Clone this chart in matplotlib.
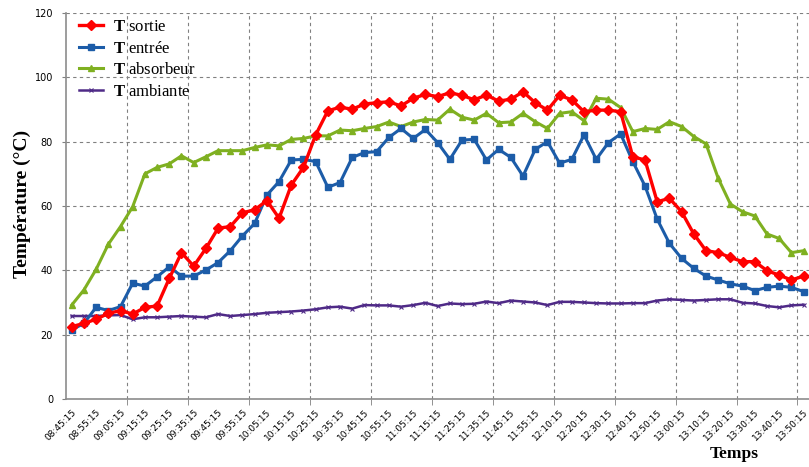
import matplotlib
matplotlib.use('Agg')
import matplotlib.pyplot as plt
import numpy as np

plt.rcParams['mathtext.fontset'] = 'custom'
plt.rcParams['mathtext.rm'] = 'Liberation Serif'
plt.rcParams['mathtext.bf'] = 'Liberation Serif:bold'

# une etiquette toutes les 2 mesures
etiquettes = ['08:45:15', '08:55:15', '09:05:15', '09:15:15', '09:25:15', '09:35:15',
              '09:45:15', '09:55:15', '10:05:15', '10:15:15', '10:25:15', '10:35:15',
              '10:45:15', '10:55:15', '11:05:15', '11:15:15', '11:25:15', '11:35:15',
              '11:45:15', '11:55:15', '12:10:15', '12:20:15', '12:30:15', '12:40:15',
              '12:50:15', '13:00:15', '13:10:15', '13:20:15', '13:30:15', '13:40:15',
              '13:50:15']

T_sortie = [22.5, 23.5, 24.8, 26.6, 27.5, 26.4, 28.5, 28.9, 37.5, 45.5,
            41.3, 46.8, 53.1, 53.6, 57.9, 58.8, 61.7, 56.2, 66.5, 72.0,
            82.1, 89.6, 90.7, 90.1, 91.7, 92.1, 92.4, 91.1, 93.5, 94.7,
            94.0, 95.2, 94.4, 93.0, 94.5, 92.6, 93.2, 95.5, 92.1, 89.8,
            94.4, 93.0, 89.3, 89.8, 89.8, 89.3, 75.3, 74.3, 61.3, 62.4,
            58.2, 51.3, 46.1, 45.5, 44.0, 42.7, 42.7, 39.9, 38.5, 37.0, 38.2]

T_entree = [21.5, 23.5, 28.5, 27.5, 28.7, 36.0, 35.1, 38.0, 41.1, 38.2,
            38.2, 40.1, 42.4, 46.1, 50.7, 54.6, 63.4, 67.6, 74.3, 74.5,
            73.8, 65.8, 67.3, 75.1, 76.6, 76.9, 81.3, 84.1, 81.0, 83.8,
            79.7, 74.5, 80.5, 80.7, 74.3, 77.6, 75.1, 69.3, 77.6, 80.0,
            73.3, 74.5, 82.1, 74.5, 79.7, 82.4, 73.8, 66.2, 55.9, 48.4,
            43.7, 40.6, 38.2, 37.0, 35.8, 35.1, 33.7, 34.7, 35.1, 34.7, 33.4]

T_absorbeur = [29.2, 33.9, 40.3, 48.1, 53.6, 59.8, 70.0, 72.0, 73.1, 75.6,
               73.5, 75.3, 77.2, 77.2, 77.2, 78.2, 79.0, 78.7, 80.7, 81.0,
               81.8, 81.8, 83.6, 83.4, 84.1, 84.7, 86.1, 84.7, 86.1, 86.9,
               86.7, 90.1, 87.6, 86.7, 88.8, 85.9, 86.1, 88.8, 86.2, 84.1,
               88.8, 89.3, 86.5, 93.5, 93.2, 90.6, 83.1, 84.1, 83.8, 86.2,
               84.7, 81.6, 79.3, 68.6, 60.6, 58.2, 56.9, 51.3, 49.9, 45.5, 46.1]

T_ambiante = [25.8, 25.8, 25.8, 26.0, 26.1, 24.8, 25.4, 25.4, 25.6, 25.8,
              25.6, 25.4, 26.4, 25.8, 26.1, 26.4, 26.8, 27.0, 27.2, 27.5,
              27.9, 28.5, 28.7, 28.1, 29.2, 29.1, 29.1, 28.7, 29.2, 29.9,
              28.9, 29.7, 29.5, 29.6, 30.3, 29.8, 30.6, 30.3, 30.0, 29.2,
              30.2, 30.2, 30.0, 29.8, 29.7, 29.7, 29.8, 29.8, 30.6, 31.0,
              30.8, 30.6, 30.8, 31.0, 31.0, 29.9, 29.7, 28.9, 28.5, 29.1, 29.3]

n = len(T_sortie)
x = np.arange(n)

fig = plt.figure(figsize=(8.09, 4.67), dpi=100)
ax = fig.add_axes([0.0811, 0.1456, 0.919, 0.8266])

ax.plot(x, T_sortie, color='#ff0000', lw=2.4, marker='D', ms=5.5, label=r'$\mathbf{T}$ sortie', zorder=5)
ax.plot(x, T_entree, color='#1c5ca8', lw=2.2, marker='s', ms=4, label=r'$\mathbf{T}$ entrée', zorder=4)
ax.plot(x, T_absorbeur, color='#7fb021', lw=2.2, marker='^', ms=4.5, label=r'$\mathbf{T}$ absorbeur', zorder=3)
ax.plot(x, T_ambiante, color='#4f2a87', lw=1.8, marker='x', ms=3, mew=0.8, label=r'$\mathbf{T}$ ambiante', zorder=2)

ax.set_xlim(-0.5, 60.45)
ax.set_ylim(0, 120)
ax.set_yticks(np.arange(0, 121, 20))

ax.set_xticks(np.arange(0, n, 2))
ax.set_xticklabels(etiquettes, rotation=45, ha='right', rotation_mode='anchor', fontsize=6.5)
ax.tick_params(axis='x', which='major', length=0, pad=6)
ax.set_xticks(np.arange(4.5, n, 5), minor=True)
ax.tick_params(axis='x', which='minor', length=4, color='#808080')
ax.tick_params(axis='y', labelsize=7, length=3, pad=6, color='#808080')

ax.grid(True, axis='y', which='major', ls=(0, (3, 3)), color='#808080', lw=0.8)
ax.grid(True, axis='x', which='minor', ls=(0, (3, 3)), color='#808080', lw=0.8)
ax.set_axisbelow(True)

for s in ['top', 'right']:
    ax.spines[s].set_visible(False)
for s in ['left', 'bottom']:
    ax.spines[s].set_color('#8c8c8c')
    ax.spines[s].set_linewidth(1.2)

ax.set_ylabel('Température (°C)', family='Liberation Serif', fontweight='bold', fontsize=14)
ax.yaxis.set_label_coords(-0.046, 0.505)
fig.text(0.908, 0.027, 'Temps', family='Liberation Serif', fontweight='bold', fontsize=12.5, ha='center', va='center')

ax.legend(loc='upper left', bbox_to_anchor=(0.005, 1.01), frameon=False,
          prop={'family': 'Liberation Serif', 'size': 12}, handlelength=1.45,
          labelspacing=0.33, handletextpad=0.6, borderaxespad=0.2)

fig.savefig('out.png', dpi=100)
